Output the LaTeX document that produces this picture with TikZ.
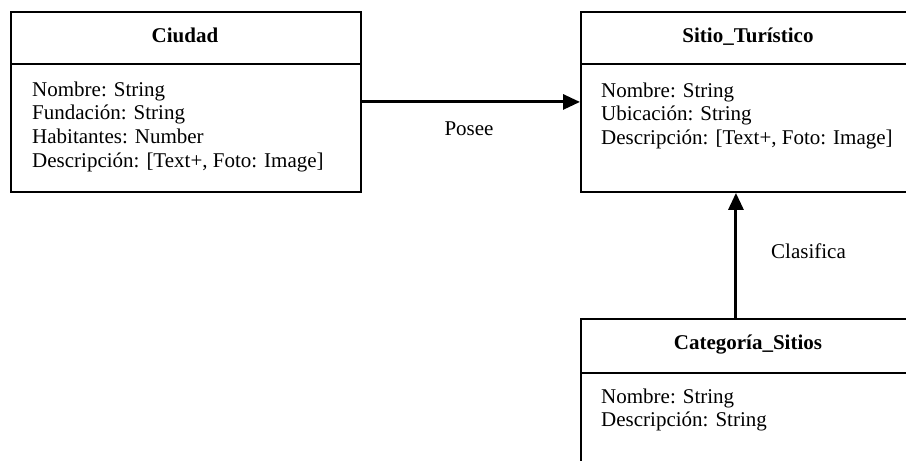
\documentclass[tikz,border=0pt]{standalone}
\usepackage{fontspec}
\setmainfont{Liberation Serif}
\usetikzlibrary{arrows.meta}
\begin{document}
\begin{tikzpicture}[x=1pt,y=-1pt,
  classbox/.style={draw, line width=1.9pt, rectangle, minimum width=#1,
    minimum height=180pt, inner sep=0pt, anchor=north west},
  classtitle/.style={anchor=base, inner sep=0pt, font=\fontsize{21}{24}\selectfont\bfseries},
  attr/.style={anchor=base west, inner sep=0pt, font=\fontsize{21}{24}\selectfont},
  rel/.style={anchor=base, inner sep=0pt, font=\fontsize{21}{24}\selectfont},
  divider/.style={line width=1.9pt},
  assoc/.style={line width=3pt, -{Triangle[length=17pt,width=15pt]}}
]
\useasboundingbox (0,0) rectangle (906,461);
\clip (0,0) rectangle (906,461);

% class boxes
\node[classbox=350pt] (ciudad) at (10,11) {};
\node[classbox=336pt] (sitio) at (580,11) {};
\node[classbox=336pt] (cat) at (580,318) {};

% name / attribute separators
\draw[divider] ([yshift=-53pt]ciudad.north west) -- ([yshift=-53pt]ciudad.north east);
\draw[divider] ([yshift=-53pt]sitio.north west) -- ([yshift=-53pt]sitio.north east);
\draw[divider] ([yshift=-55pt]cat.north west) -- ([yshift=-55pt]cat.north east);

% class names
\node[classtitle] (ciudad-t) at (185,42) {Ciudad};
\node[classtitle] (sitio-t) at (748,42) {Sitio\_Turístico};
\node[classtitle] (cat-t) at (748,349) {Categoría\_Sitios};

% attributes
\node[attr] (ciudad-a1) at (32,96) {Nombre: String};
\node[attr] (ciudad-a2) at (32,119.7) {Fundación: String};
\node[attr] (ciudad-a3) at (32,143.4) {Habitantes: Number};
\node[attr] (ciudad-a4) at (32,167.1) {Descripción: [Text+, Foto: Image]};

\node[attr] (sitio-a1) at (601,97) {Nombre: String};
\node[attr] (sitio-a2) at (601,120.7) {Ubicación: String};
\node[attr] (sitio-a3) at (601,144.4) {Descripción: [Text+, Foto: Image]};

\node[attr] (cat-a1) at (601,403) {Nombre: String};
\node[attr] (cat-a2) at (601,426.7) {Descripción: String};

% associations
\draw[assoc] (ciudad.east) -- (sitio.west);
\draw[assoc] ([xshift=-13pt]cat.north) -- ([xshift=-13pt]sitio.south);

\node[rel] (posee) at (469,135) {Posee};
\node[rel, anchor=base west] (clasifica) at (771,258) {Clasifica};
\end{tikzpicture}
\end{document}
